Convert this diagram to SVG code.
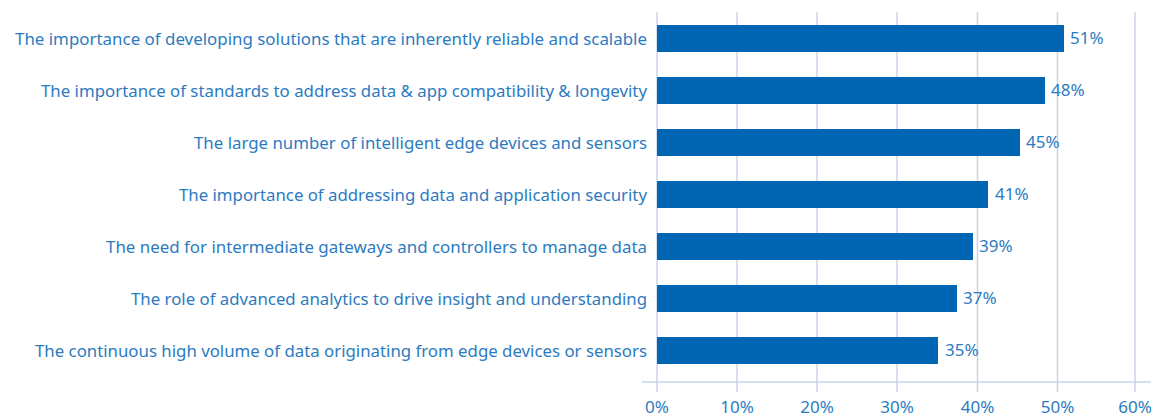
<svg xmlns="http://www.w3.org/2000/svg" width="1160" height="416" viewBox="0 0 1160 416">
<style>
.grid{stroke:#c9d3ea;stroke-width:1.5}
.bar{fill:#0066b3}
.cat{font-family:"Noto Sans","Open Sans",sans-serif;font-size:17px;fill:#2c7bc1;text-anchor:end}
.val{font-family:"Noto Sans","Open Sans",sans-serif;font-size:17px;fill:#2c7bc1}
.tick{font-family:"Noto Sans","Open Sans",sans-serif;font-size:17px;fill:#2c7bc1;text-anchor:middle}
</style>
<rect width="1160" height="416" fill="#ffffff"/>
<g id="gridlines">
<line class="grid" x1="657" y1="12" x2="657" y2="392"/>
<line class="grid" x1="737" y1="12" x2="737" y2="392"/>
<line class="grid" x1="817" y1="12" x2="817" y2="392"/>
<line class="grid" x1="897" y1="12" x2="897" y2="392"/>
<line class="grid" x1="977.5" y1="12" x2="977.5" y2="392"/>
<line class="grid" x1="1057.5" y1="12" x2="1057.5" y2="392"/>
<line class="grid" x1="1135" y1="12" x2="1135" y2="392"/>
<line class="grid" x1="642" y1="382" x2="1151" y2="382"/>
</g>
<g id="axis-labels">
<text class="tick" x="657" y="412.5">0%</text>
<text class="tick" x="737" y="412.5">10%</text>
<text class="tick" x="817" y="412.5">20%</text>
<text class="tick" x="897" y="412.5">30%</text>
<text class="tick" x="977.5" y="412.5">40%</text>
<text class="tick" x="1057.5" y="412.5">50%</text>
<text class="tick" x="1135" y="412.5">60%</text>
</g>
<g id="bar1">
<rect class="bar" x="657" y="25" width="407" height="27"/>
<text class="cat" x="647" y="45" textLength="632" lengthAdjust="spacingAndGlyphs">The importance of developing solutions that are inherently reliable and scalable</text>
<text class="val" x="1070" y="44">51%</text>
</g>
<g id="bar2">
<rect class="bar" x="657" y="77" width="388" height="27"/>
<text class="cat" x="647" y="97" textLength="606" lengthAdjust="spacingAndGlyphs">The importance of standards to address data &amp; app compatibility &amp; longevity</text>
<text class="val" x="1051" y="96">48%</text>
</g>
<g id="bar3">
<rect class="bar" x="657" y="129" width="363" height="27"/>
<text class="cat" x="647" y="149" textLength="453" lengthAdjust="spacingAndGlyphs">The large number of intelligent edge devices and sensors</text>
<text class="val" x="1026" y="148">45%</text>
</g>
<g id="bar4">
<rect class="bar" x="657" y="181" width="331" height="27"/>
<text class="cat" x="647" y="201" textLength="468" lengthAdjust="spacingAndGlyphs">The importance of addressing data and application security</text>
<text class="val" x="995" y="200">41%</text>
</g>
<g id="bar5">
<rect class="bar" x="657" y="233" width="316" height="27"/>
<text class="cat" x="647" y="253" textLength="541" lengthAdjust="spacingAndGlyphs">The need for intermediate gateways and controllers to manage data</text>
<text class="val" x="979" y="252">39%</text>
</g>
<g id="bar6">
<rect class="bar" x="657" y="285" width="300" height="27"/>
<text class="cat" x="647" y="305" textLength="516" lengthAdjust="spacingAndGlyphs">The role of advanced analytics to drive insight and understanding</text>
<text class="val" x="963" y="304">37%</text>
</g>
<g id="bar7">
<rect class="bar" x="657" y="337" width="281" height="27"/>
<text class="cat" x="647" y="357" textLength="612" lengthAdjust="spacingAndGlyphs">The continuous high volume of data originating from edge devices or sensors</text>
<text class="val" x="945" y="356">35%</text>
</g>
</svg>
